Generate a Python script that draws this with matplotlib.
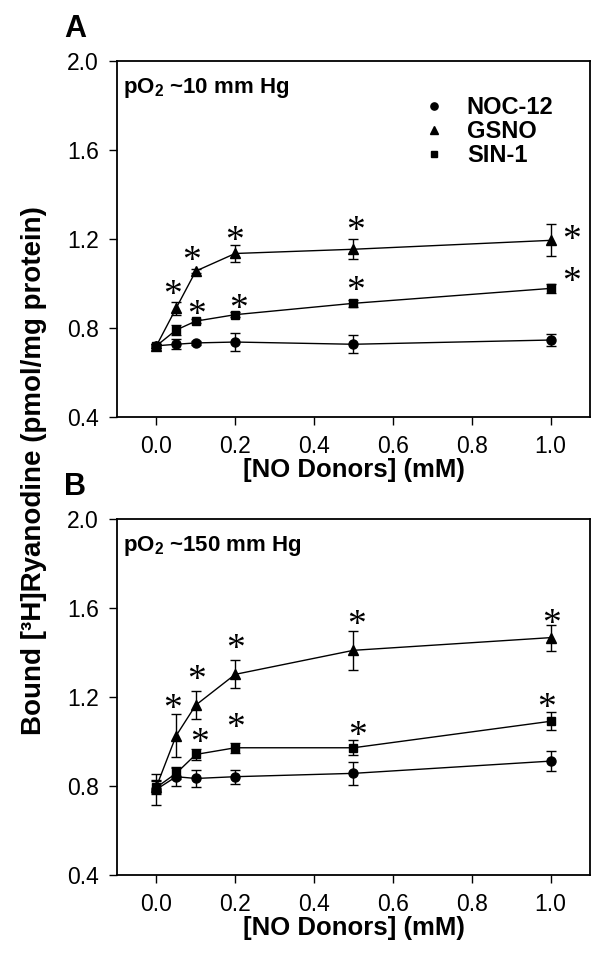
import numpy as np
import matplotlib
matplotlib.use("Agg")
import matplotlib.pyplot as plt
from matplotlib.lines import Line2D

plt.rcParams['font.family'] = ['Liberation Sans', 'DejaVu Sans']
plt.rcParams['mathtext.fontset'] = 'custom'
plt.rcParams['mathtext.rm'] = 'Liberation Sans'
plt.rcParams['mathtext.bf'] = 'Liberation Sans:bold'

# concentrations (mM)
conc = [0.0, 0.05, 0.1, 0.2, 0.5, 1.0]

# panel A, pO2 ~10 mm Hg
a_noc = [0.72, 0.727, 0.733, 0.737, 0.727, 0.746]
a_noc_err = [0.01, 0.022, 0.01, 0.04, 0.04, 0.026]
a_gsno = [0.72, 0.889, 1.056, 1.135, 1.154, 1.194]
a_gsno_err = [0.01, 0.03, 0.01, 0.038, 0.045, 0.072]
a_sin = [0.72, 0.791, 0.831, 0.86, 0.911, 0.978]
a_sin_err = [0.01, 0.022, 0.01, 0.01, 0.015, 0.022]

# panel B, pO2 ~150 mm Hg
b_noc = [0.785, 0.842, 0.834, 0.842, 0.857, 0.912]
b_noc_err = [0.069, 0.043, 0.04, 0.032, 0.052, 0.045]
b_gsno = [0.797, 1.026, 1.164, 1.302, 1.41, 1.467]
b_gsno_err = [0.03, 0.097, 0.061, 0.063, 0.088, 0.058]
b_sin = [0.794, 0.857, 0.942, 0.972, 0.972, 1.091]
b_sin_err = [0.03, 0.025, 0.025, 0.023, 0.034, 0.04]

# significance stars (x, y)
a_star_x = [0.04, 0.089, 0.198, 0.506, 1.054, 0.101, 0.208, 0.506, 1.054]
a_star_y = [0.989, 1.143, 1.233, 1.278, 1.236, 0.903, 0.926, 1.008, 1.049]
b_star_x = [0.042, 0.103, 0.2, 0.508, 1.002, 0.109, 0.2, 0.51, 0.989]
b_star_y = [1.19, 1.318, 1.459, 1.564, 1.569, 1.034, 1.104, 1.067, 1.191]

names = ['NOC-12', 'GSNO', 'SIN-1']
markers = ['o', '^', 's']
sizes = [6.5, 7, 5.5]
yticks = [0.4, 0.8, 1.2, 1.6, 2.0]
xticks = [0.0, 0.2, 0.4, 0.6, 0.8, 1.0]

fig = plt.figure(figsize=(6.04, 9.58), dpi=100)
axA = fig.add_axes([0.1937, 0.5647, 0.783, 0.3716])
axB = fig.add_axes([0.1937, 0.0866, 0.783, 0.3716])


def panel(ax, noc, noc_e, gsno, gsno_e, sin, sin_e, sx, sy, note, letter):
    series = [(noc, noc_e), (gsno, gsno_e), (sin, sin_e)]
    for (vals, err), mk, ms in zip(series, markers, sizes):
        ax.errorbar(conc, vals, yerr=err, color='black', marker=mk, ms=ms,
                    lw=1, elinewidth=1, capsize=3.5, capthick=1)
    for x, y in zip(sx, sy):
        ax.annotate('*', (x, y), xytext=(0, -14), textcoords='offset points',
                    ha='center', va='baseline', fontsize=27,
                    family='Liberation Serif')
    ax.set_xlim(-0.1, 1.1)
    ax.set_ylim(0.4, 2.0)
    ax.set_xticks(xticks)
    ax.set_yticks(yticks)
    ax.set_xticklabels(['%.1f' % t for t in xticks])
    ax.set_yticklabels(['%.1f' % t for t in yticks])
    ax.tick_params(direction='out', length=6, width=1, labelsize=16.5, pad=7)
    for sp in ax.spines.values():
        sp.set_linewidth(1.3)
    ax.set_xlabel('[NO Donors] (mM)', fontsize=18.5, fontweight='bold', labelpad=0)
    ax.text(0.012, 0.925, note, transform=ax.transAxes, fontsize=16,
            fontweight='bold', va='center')
    ax.text(-0.088, 1.09, letter, transform=ax.transAxes, fontsize=22,
            fontweight='bold', ha='center', va='center')


panel(axA, a_noc, a_noc_err, a_gsno, a_gsno_err, a_sin, a_sin_err,
      a_star_x, a_star_y, r'pO$_\mathbf{2}$ ~10 mm Hg', 'A')
panel(axB, b_noc, b_noc_err, b_gsno, b_gsno_err, b_sin, b_sin_err,
      b_star_x, b_star_y, r'pO$_\mathbf{2}$ ~150 mm Hg', 'B')

# legend: markers only
handles = [Line2D([], [], color='black', marker=m, ms=s * 0.8, ls='none')
           for m, s in zip(markers, sizes)]
axA.legend(handles, names, loc='upper left', bbox_to_anchor=(0.6, 0.962),
           frameon=False, handlelength=1.0, handletextpad=0.9,
           labelspacing=0.05, prop={'weight': 'bold', 'size': 17})

fig.text(0.057, 0.509, 'Bound [³H]Ryanodine (pmol/mg protein)', rotation=90,
         ha='center', va='center', fontsize=20, fontweight='bold')

fig.savefig('out.png', dpi=100)
